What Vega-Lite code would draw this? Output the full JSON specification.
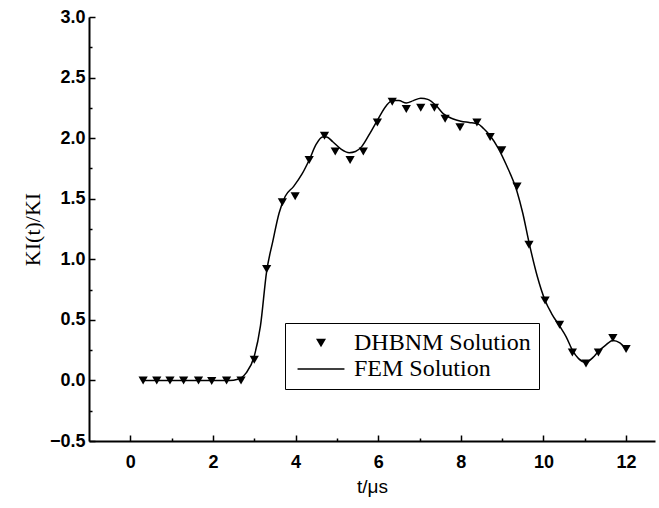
{
  "$schema": "https://vega.github.io/schema/vega-lite/v6.json",
  "width": 566,
  "height": 424,
  "autosize": {"type": "none"},
  "padding": {"left": 89, "top": 17, "right": 4, "bottom": 67},
  "background": "white",
  "config": {
    "view": {"stroke": null},
    "style": {"guide-label": {"fontWeight": "bold", "font": "Arial", "fill": "black"}},
    "axis": {
      "grid": false,
      "domainColor": "black",
      "domainWidth": 2,
      "tickColor": "black",
      "tickWidth": 1.5,
      "labelFontWeight": "bold"
    }
  },
  "datasets": {
    "dhbnm": [
      {"t": 0.31, "k": 0}, {"t": 0.64, "k": 0}, {"t": 0.96, "k": 0}, {"t": 1.29, "k": 0},
      {"t": 1.65, "k": 0}, {"t": 1.97, "k": -0.005}, {"t": 2.33, "k": 0}, {"t": 2.68, "k": 0},
      {"t": 3.0, "k": 0.17}, {"t": 3.3, "k": 0.92}, {"t": 3.68, "k": 1.47}, {"t": 3.99, "k": 1.52},
      {"t": 4.33, "k": 1.82}, {"t": 4.70, "k": 2.02}, {"t": 4.96, "k": 1.89}, {"t": 5.32, "k": 1.82},
      {"t": 5.64, "k": 1.89}, {"t": 5.98, "k": 2.13}, {"t": 6.34, "k": 2.30}, {"t": 6.68, "k": 2.24},
      {"t": 7.03, "k": 2.25}, {"t": 7.36, "k": 2.25}, {"t": 7.62, "k": 2.16}, {"t": 7.98, "k": 2.09},
      {"t": 8.39, "k": 2.13}, {"t": 8.71, "k": 2.01}, {"t": 8.99, "k": 1.90}, {"t": 9.36, "k": 1.60},
      {"t": 9.65, "k": 1.12}, {"t": 10.04, "k": 0.66}, {"t": 10.39, "k": 0.46}, {"t": 10.70, "k": 0.23},
      {"t": 11.03, "k": 0.14}, {"t": 11.33, "k": 0.23}, {"t": 11.68, "k": 0.35}, {"t": 12.0, "k": 0.26}
    ],
    "fem": [
      {"t": 0.3, "k": 0}, {"t": 0.6, "k": 0}, {"t": 1.0, "k": 0}, {"t": 1.5, "k": 0},
      {"t": 2.0, "k": 0}, {"t": 2.4, "k": 0}, {"t": 2.6, "k": 0.01}, {"t": 2.8, "k": 0.06},
      {"t": 3.0, "k": 0.2}, {"t": 3.15, "k": 0.45}, {"t": 3.3, "k": 0.9}, {"t": 3.45, "k": 1.15},
      {"t": 3.6, "k": 1.38}, {"t": 3.75, "k": 1.52}, {"t": 3.95, "k": 1.6}, {"t": 4.15, "k": 1.7},
      {"t": 4.33, "k": 1.82}, {"t": 4.5, "k": 1.95}, {"t": 4.65, "k": 2.01}, {"t": 4.75, "k": 2.01},
      {"t": 4.9, "k": 1.97}, {"t": 5.1, "k": 1.91}, {"t": 5.3, "k": 1.88}, {"t": 5.45, "k": 1.89},
      {"t": 5.6, "k": 1.93}, {"t": 5.8, "k": 2.04}, {"t": 6.0, "k": 2.16}, {"t": 6.2, "k": 2.27},
      {"t": 6.35, "k": 2.31}, {"t": 6.5, "k": 2.31}, {"t": 6.68, "k": 2.29}, {"t": 6.85, "k": 2.31},
      {"t": 7.03, "k": 2.33}, {"t": 7.2, "k": 2.32}, {"t": 7.4, "k": 2.27}, {"t": 7.58, "k": 2.2},
      {"t": 7.8, "k": 2.16}, {"t": 8.0, "k": 2.14}, {"t": 8.2, "k": 2.13}, {"t": 8.4, "k": 2.12},
      {"t": 8.55, "k": 2.08}, {"t": 8.71, "k": 2.02}, {"t": 8.9, "k": 1.92}, {"t": 9.1, "k": 1.78},
      {"t": 9.36, "k": 1.56}, {"t": 9.5, "k": 1.38}, {"t": 9.65, "k": 1.14}, {"t": 9.85, "k": 0.86},
      {"t": 10.04, "k": 0.66}, {"t": 10.2, "k": 0.55}, {"t": 10.39, "k": 0.45}, {"t": 10.55, "k": 0.36},
      {"t": 10.7, "k": 0.25}, {"t": 10.85, "k": 0.18}, {"t": 11.03, "k": 0.15}, {"t": 11.2, "k": 0.19},
      {"t": 11.33, "k": 0.24}, {"t": 11.5, "k": 0.29}, {"t": 11.68, "k": 0.33}, {"t": 11.85, "k": 0.31},
      {"t": 12.0, "k": 0.26}
    ]
  },
  "encoding": {
    "x": {
      "field": "t", "type": "quantitative",
      "scale": {"domain": [-1, 12.7], "nice": false, "zero": false},
      "axis": {
        "title": "t/μs",
        "titleFont": "Liberation Sans",
        "titleFontSize": 19,
        "titleFontWeight": "normal",
        "titleColor": "black",
        "titlePadding": 6,
        "values": [0, 1, 2, 3, 4, 5, 6, 7, 8, 9, 10, 11, 12],
        "labelExpr": "datum.value % 2 === 0 ? datum.label : ''",
        "labelFont": "Liberation Sans",
        "labelFontWeight": 800,
        "labelFontSize": 18,
        "labelColor": "black",
        "tickSize": {"condition": {"test": "datum.value % 2 !== 0", "value": -3}, "value": -6},
        "labelPadding": 18
      }
    },
    "y": {
      "field": "k", "type": "quantitative",
      "scale": {"domain": [-0.5, 3.0], "nice": false, "zero": false},
      "axis": {
        "title": "KI(t)/KI",
        "titleFont": "Liberation Serif",
        "titleFontSize": 22,
        "titleFontWeight": "normal",
        "titleColor": "black",
        "titlePadding": 5,
        "values": [-0.5, -0.25, 0, 0.25, 0.5, 0.75, 1, 1.25, 1.5, 1.75, 2, 2.25, 2.5, 2.75, 3],
        "format": ".1f",
        "labelExpr": "(datum.value * 2) % 1 === 0 ? datum.label : ''",
        "labelFont": "Liberation Sans",
        "labelFontWeight": 800,
        "labelFontSize": 18,
        "labelColor": "black",
        "tickSize": {"condition": {"test": "(datum.value * 2) % 1 !== 0", "value": -3}, "value": -6},
        "labelPadding": 10
      }
    },
    "color": {
      "type": "nominal",
      "scale": {"domain": ["DHBNM Solution", "FEM Solution"], "range": ["black", "black"]},
      "legend": {
        "title": null,
        "orient": "none",
        "legendX": 196,
        "legendY": 306,
        "direction": "vertical",
        "strokeColor": "black",
        "fillColor": "white",
        "padding": 8,
        "labelFont": "Liberation Serif",
        "labelFontWeight": "normal",
        "labelFontSize": 24,
        "labelColor": "black",
        "labelLimit": 400,
        "labelOffset": 21,
        "symbolOffset": 16,
        "rowPadding": 2,
        "symbolSize": 2200,
        "symbolStrokeWidth": 1.5,
        "encode": {
          "symbols": {
            "update": {
              "shape": {"signal": "datum.value === 'FEM Solution' ? 'stroke' : 'triangle-down'"},
              "size": {"signal": "datum.value === 'FEM Solution' ? 2200 : 100"},
              "fill": {"signal": "datum.value === 'FEM Solution' ? 'transparent' : 'black'"},
              "stroke": {"value": "black"},
              "strokeWidth": {"signal": "datum.value === 'FEM Solution' ? 1.5 : 0"},
              "opacity": {"value": 1}
            }
          }
        }
      }
    }
  },
  "layer": [
    {
      "data": {"name": "fem"},
      "mark": {"type": "line", "interpolate": "monotone", "strokeWidth": 1.5},
      "encoding": {"color": {"datum": "FEM Solution"}}
    },
    {
      "data": {"name": "dhbnm"},
      "mark": {"type": "point", "shape": "triangle-down", "filled": true, "size": 85, "opacity": 1},
      "encoding": {"color": {"datum": "DHBNM Solution"}}
    }
  ]
}
